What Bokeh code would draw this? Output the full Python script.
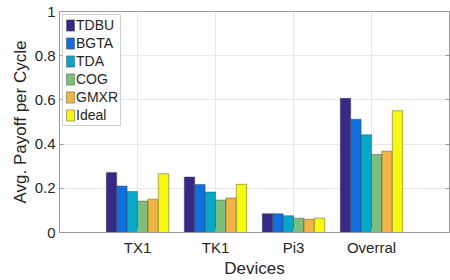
from bokeh.plotting import figure
from bokeh.models import (FactorRange, FixedTicker, LinearAxis,
                          Legend, LegendItem, ColumnDataSource, Range1d)
from bokeh.transform import dodge
from bokeh.embed import file_html
from bokeh.resources import INLINE

devices = ["TX1", "TK1", "Pi3", "Overral"]
methods = ["TDBU", "BGTA", "TDA", "COG", "GMXR", "Ideal"]
TDBU = [0.272, 0.251, 0.085, 0.607]
BGTA = [0.210, 0.217, 0.085, 0.513]
TDA = [0.186, 0.183, 0.076, 0.442]
COG = [0.142, 0.147, 0.065, 0.353]
GMXR = [0.151, 0.156, 0.060, 0.368]
Ideal = [0.266, 0.218, 0.065, 0.551]
colors = ["#352A87", "#1170DD", "#0AA6C6", "#7CBF7C", "#F1B546", "#F8F80E"]
y_ticks = [0, 0.2, 0.4, 0.6, 0.8, 1]
y_tick_labels = ["0", "0.2", "0.4", "0.6", "0.8", "1"]

series = [TDBU, BGTA, TDA, COG, GMXR, Ideal]
src = ColumnDataSource(dict(device=devices, **{m: s for m, s in zip(methods, series)}))

FONT = "Liberation Sans"
TXT = "#262626"
AX = "#9a9a9a"

p = figure(width=450, height=280, output_backend="svg", toolbar_location=None,
           x_range=FactorRange(*devices, range_padding=0.25),
           y_range=Range1d(0, 1),
           min_border_left=59, min_border_right=1, min_border_top=11,
           min_border_bottom=30)
p.outline_line_color = AX

group = 0.8
bw = group / len(methods)
items = []
for i, (m, c) in enumerate(zip(methods, colors)):
    off = -group / 2 + bw * (i + 0.5)
    r = p.vbar(x=dodge("device", off, range=p.x_range), top=m, width=bw,
               source=src, fill_color=c, line_color="#3a3a3a",
               line_alpha=0.55, line_width=0.8)
    items.append(LegendItem(label=m, renderers=[r]))

# grids
p.xgrid.grid_line_color = "#e8e8e8"
p.ygrid.grid_line_color = "#e8e8e8"
p.ygrid.ticker = FixedTicker(ticks=y_ticks)

def style(ax):
    ax.axis_line_color = AX
    ax.major_tick_line_color = AX
    ax.major_tick_in = 4
    ax.major_tick_out = 0
    ax.minor_tick_line_color = None
    ax.major_label_text_font = FONT
    ax.major_label_text_font_size = "15px"
    ax.major_label_text_color = TXT
    ax.axis_label_text_font = FONT
    ax.axis_label_text_font_size = "17px"
    ax.axis_label_text_font_style = "normal"
    ax.axis_label_text_color = TXT

ya = p.yaxis[0]
ya.ticker = FixedTicker(ticks=y_ticks)
ya.major_label_overrides = {t: l for t, l in zip(y_ticks, y_tick_labels)}
ya.axis_label = "Avg. Payoff per Cycle"
style(ya)
ya.major_label_standoff = 4
ya.axis_label_standoff = 2

xa = p.xaxis[0]
xa.axis_label = "Devices"
style(xa)
xa.major_label_standoff = 6
xa.axis_label_standoff = 0

ra = LinearAxis(ticker=FixedTicker(ticks=y_ticks))
style(ra)
ra.major_label_text_color = None
ra.major_label_standoff = 0
p.add_layout(ra, "right")

legend = Legend(items=items, location="top_left")
legend.margin = 3
legend.padding = 2
legend.spacing = 2
legend.glyph_width = 10
legend.glyph_height = 14
legend.label_height = 14
legend.label_standoff = 1
legend.label_text_font = FONT
legend.label_text_font_size = "14px"
legend.label_text_color = TXT
legend.border_line_color = "#a0a0a0"
legend.background_fill_color = "white"
legend.background_fill_alpha = 1
p.add_layout(legend)

open("out.html", "w").write(file_html(p, INLINE))
